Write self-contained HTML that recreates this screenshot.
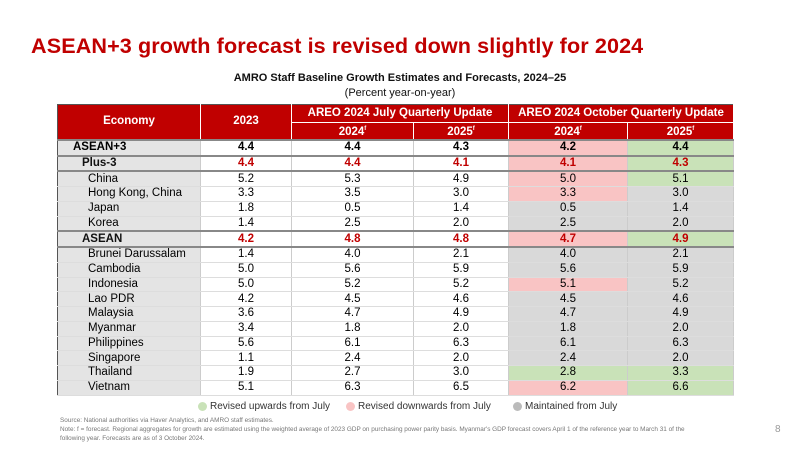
<!DOCTYPE html>
<html><head><style>
body{margin:0;width:800px;height:450px;background:#fff;font-family:"Liberation Sans",sans-serif;position:relative;overflow:hidden}
.t{position:absolute;left:31px;top:33px;font-size:21.6px;font-weight:bold;color:#c00000;letter-spacing:0.1px}
.st{position:absolute;left:0;width:800px;text-align:center;font-size:11px;color:#111}
table{position:absolute;left:57px;top:104px;border-collapse:collapse;font-size:11.5px;table-layout:fixed}
td,th{padding:0;text-align:center;height:13.75px;line-height:13px;border-bottom:1px solid #fff}
th{background:#c00000;color:#fff;font-weight:bold;border-right:1px solid #fff}
td{border-right:1px solid #ccc;border-bottom:1px solid #ddd}
td.n{background:#e4e4e4;text-align:left;padding-left:30px}
tr.b td{font-weight:bold;border-top:2px solid #888}
tr.b td.n{padding-left:15px}
tr.r td{color:#c00000}
tr.r td.n{color:#111;padding-left:24px}
.p{background:#f9c4c4}.g{background:#c9e2b8}.y{background:#d9d9d9}
.lg{position:absolute;top:401px;font-size:10px;color:#333;white-space:nowrap}
.dot{position:absolute;top:402px;width:9px;height:9px;border-radius:50%}
.fn{position:absolute;left:60px;font-size:6.4px;color:#777;line-height:9px;width:628px}
</style></head><body>
<div class="t">ASEAN+3 growth forecast is revised down slightly for 2024</div>
<div class="st" style="top:72px;font-weight:bold">AMRO Staff Baseline Growth Estimates and Forecasts, 2024–25</div>
<div class="st" style="top:87px">(Percent year-on-year)</div>
<table style="border:1px solid #555">
<colgroup><col style="width:143px"><col style="width:91px"><col style="width:122px"><col style="width:95px"><col style="width:119px"><col style="width:106px"></colgroup>
<tr><th rowspan="2" style="height:33px">Economy</th><th rowspan="2">2023</th><th colspan="2" style="height:17px">AREO 2024 July Quarterly Update</th><th colspan="2">AREO 2024 October Quarterly Update</th></tr>
<tr><th style="height:15px">2024<sup style="font-size:6px">f</sup></th><th>2025<sup style="font-size:6px">f</sup></th><th>2024<sup style="font-size:6px">f</sup></th><th>2025<sup style="font-size:6px">f</sup></th></tr>
<tr class="b"><td class="n">ASEAN+3</td><td>4.4</td><td>4.4</td><td>4.3</td><td class="p">4.2</td><td class="g">4.4</td></tr>
<tr class="b r"><td class="n">Plus-3</td><td>4.4</td><td>4.4</td><td>4.1</td><td class="p">4.1</td><td class="g">4.3</td></tr>
<tr><td class="n" style="border-top:2px solid #888">China</td><td style="border-top:2px solid #888">5.2</td><td style="border-top:2px solid #888">5.3</td><td style="border-top:2px solid #888">4.9</td><td class="p" style="border-top:2px solid #888">5.0</td><td class="g" style="border-top:2px solid #888">5.1</td></tr>
<tr><td class="n">Hong Kong, China</td><td>3.3</td><td>3.5</td><td>3.0</td><td class="p">3.3</td><td class="y">3.0</td></tr>
<tr><td class="n">Japan</td><td>1.8</td><td>0.5</td><td>1.4</td><td class="y">0.5</td><td class="y">1.4</td></tr>
<tr><td class="n">Korea</td><td>1.4</td><td>2.5</td><td>2.0</td><td class="y">2.5</td><td class="y">2.0</td></tr>
<tr class="b r"><td class="n">ASEAN</td><td>4.2</td><td>4.8</td><td>4.8</td><td class="p">4.7</td><td class="g">4.9</td></tr>
<tr><td class="n" style="border-top:2px solid #888">Brunei Darussalam</td><td style="border-top:2px solid #888">1.4</td><td style="border-top:2px solid #888">4.0</td><td style="border-top:2px solid #888">2.1</td><td class="y" style="border-top:2px solid #888">4.0</td><td class="y" style="border-top:2px solid #888">2.1</td></tr>
<tr><td class="n">Cambodia</td><td>5.0</td><td>5.6</td><td>5.9</td><td class="y">5.6</td><td class="y">5.9</td></tr>
<tr><td class="n">Indonesia</td><td>5.0</td><td>5.2</td><td>5.2</td><td class="p">5.1</td><td class="y">5.2</td></tr>
<tr><td class="n">Lao PDR</td><td>4.2</td><td>4.5</td><td>4.6</td><td class="y">4.5</td><td class="y">4.6</td></tr>
<tr><td class="n">Malaysia</td><td>3.6</td><td>4.7</td><td>4.9</td><td class="y">4.7</td><td class="y">4.9</td></tr>
<tr><td class="n">Myanmar</td><td>3.4</td><td>1.8</td><td>2.0</td><td class="y">1.8</td><td class="y">2.0</td></tr>
<tr><td class="n">Philippines</td><td>5.6</td><td>6.1</td><td>6.3</td><td class="y">6.1</td><td class="y">6.3</td></tr>
<tr><td class="n">Singapore</td><td>1.1</td><td>2.4</td><td>2.0</td><td class="y">2.4</td><td class="y">2.0</td></tr>
<tr><td class="n">Thailand</td><td>1.9</td><td>2.7</td><td>3.0</td><td class="g">2.8</td><td class="g">3.3</td></tr>
<tr><td class="n">Vietnam</td><td>5.1</td><td>6.3</td><td>6.5</td><td class="p">6.2</td><td class="g">6.6</td></tr>
</table>
<div class="dot" style="left:198px;background:#c9e2b8"></div><div class="lg" style="left:210px">Revised upwards from July</div>
<div class="dot" style="left:346px;background:#f9c4c4"></div><div class="lg" style="left:358px">Revised downwards from July</div>
<div class="dot" style="left:513px;background:#bbb"></div><div class="lg" style="left:525px">Maintained from July</div>
<div class="fn" style="top:416px">Source: National authorities via Haver Analytics, and AMRO staff estimates.<br>Note: f = forecast. Regional aggregates for growth are estimated using the weighted average of 2023 GDP on purchasing power parity basis. Myanmar's GDP forecast covers April 1 of the reference year to March 31 of the following year. Forecasts are as of 3 October 2024.</div>
<div style="position:absolute;left:775px;top:424px;font-size:10px;color:#999">8</div>
</body></html>
